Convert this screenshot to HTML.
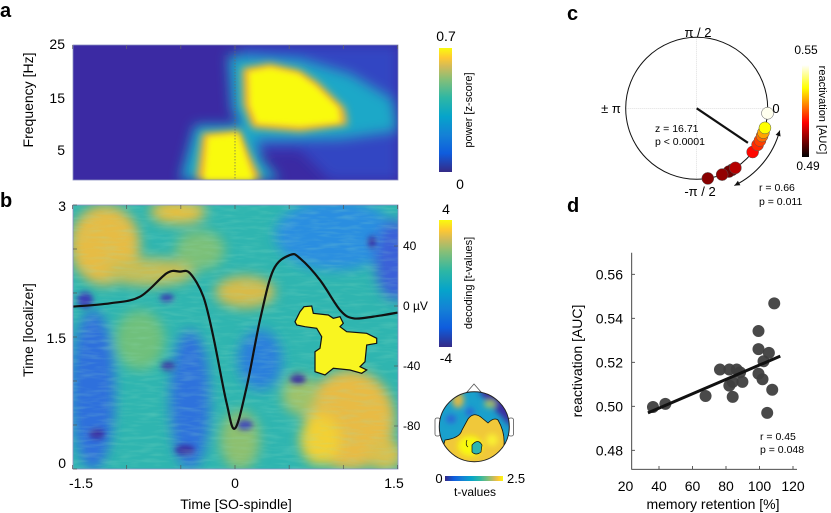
<!DOCTYPE html>
<html><head><meta charset="utf-8"><style>
html,body{margin:0;padding:0;background:#fff;}
svg{display:block;font-family:"Liberation Sans",Arial,sans-serif;}
</style></head><body>
<svg id="fig" width="831" height="513" viewBox="0 0 831 513" xmlns="http://www.w3.org/2000/svg">
<defs>
<linearGradient id="parulaV" x1="0" y1="1" x2="0" y2="0">
<stop offset="0" stop-color="#352a87"/><stop offset="0.15" stop-color="#0f5cdd"/><stop offset="0.3" stop-color="#1481d6"/><stop offset="0.45" stop-color="#06a4ca"/><stop offset="0.6" stop-color="#2eb7a4"/><stop offset="0.75" stop-color="#87bf77"/><stop offset="0.85" stop-color="#d1bb59"/><stop offset="0.92" stop-color="#fec832"/><stop offset="1" stop-color="#f9fb0e"/>
</linearGradient>
<linearGradient id="parulaH" x1="0" y1="0" x2="1" y2="0">
<stop offset="0" stop-color="#352a87"/><stop offset="0.15" stop-color="#0f5cdd"/><stop offset="0.3" stop-color="#1481d6"/><stop offset="0.45" stop-color="#06a4ca"/><stop offset="0.6" stop-color="#2eb7a4"/><stop offset="0.75" stop-color="#87bf77"/><stop offset="0.85" stop-color="#d1bb59"/><stop offset="0.92" stop-color="#fec832"/><stop offset="1" stop-color="#f9fb0e"/>
</linearGradient>
<linearGradient id="hotV" x1="0" y1="1" x2="0" y2="0">
<stop offset="0" stop-color="#000"/><stop offset="0.375" stop-color="#f00"/><stop offset="0.75" stop-color="#ff0"/><stop offset="1" stop-color="#fff"/>
</linearGradient>
<filter id="blur6" x="-20%" y="-20%" width="140%" height="140%"><feGaussianBlur stdDeviation="6"/></filter>
<filter id="blur4" x="-20%" y="-20%" width="140%" height="140%"><feGaussianBlur stdDeviation="4"/></filter>
<filter id="blur3" x="-20%" y="-20%" width="140%" height="140%"><feGaussianBlur stdDeviation="3"/></filter>
<filter id="streak"><feTurbulence type="fractalNoise" baseFrequency="0.05 0.3" numOctaves="2" seed="3"/><feColorMatrix type="matrix" values="0 0 0 0 0.3  0 0 0 0 0.75  0 0 0 0 0.55  1.2 0 0 0 -0.5"/></filter>
<clipPath id="clipA"><rect x="73" y="45" width="325" height="135"/></clipPath>
<clipPath id="clipB"><rect x="73" y="205" width="325" height="264"/></clipPath>
<clipPath id="clipT"><circle cx="474.3" cy="426.7" r="35"/></clipPath>
</defs>

<!-- PANEL A -->
<text x="0" y="17" font-size="20" font-weight="bold">a</text>
<g clip-path="url(#clipA)">
<rect x="73" y="45" width="325" height="135" fill="#3b2aa3"/>
<g filter="url(#blur6)">
<path d="M240 45 L398 45 L398 180 L330 180 L300 150 L250 150 Z" fill="#2f52d0" opacity="0.7"/>
<path d="M228 55 L300 60 L350 75 L392 100 L398 130 L340 138 L250 140 L232 110 Z" fill="#1fa8c8"/>
<path d="M195 125 L250 125 L262 160 L280 180 L180 180 Z" fill="#1fa8c8"/>
</g>
<g filter="url(#blur4)">
<path d="M242 68 L270 63 L300 70 L318 82 L345 108 L348 125 L300 132 L252 128 L243 105 Z" fill="#f0b735"/>
<path d="M202 133 L240 130 L250 155 L262 180 L196 180 Z" fill="#f0b735"/>
</g>
<g filter="url(#blur3)">
<path d="M249 72 L270 68 L298 74 L315 86 L338 108 L340 122 L300 126 L257 123 L250 105 Z" fill="#f9fb0e"/>
<path d="M208 137 L238 134 L246 158 L254 180 L204 180 Z" fill="#f9fb0e"/>
</g>
<line x1="235" y1="45" x2="235" y2="180" stroke="#666" stroke-width="0.7" stroke-dasharray="1.5,1.5"/>
</g>
<rect x="73" y="45" width="325" height="135" fill="none" stroke="#8a8fc0" stroke-width="0.8"/>
<g id="ticksA"></g>
<text x="65" y="49" font-size="14" text-anchor="end">25</text>
<text x="65" y="103" font-size="14" text-anchor="end">15</text>
<text x="65" y="155" font-size="14" text-anchor="end">5</text>
<text transform="translate(33,100) rotate(-90)" font-size="14" text-anchor="middle">Frequency [Hz]</text>
<rect x="439" y="48" width="13" height="124" fill="url(#parulaV)"/>
<text x="446" y="41" font-size="14" text-anchor="middle">0.7</text>
<text x="460" y="189" font-size="14" text-anchor="middle">0</text>
<text transform="translate(472,110) rotate(-90)" font-size="11" text-anchor="middle">power [z-score]</text>

<!-- PANEL B -->
<text x="0" y="207" font-size="20" font-weight="bold">b</text>
<g clip-path="url(#clipB)">
<rect x="73" y="205" width="325" height="264" fill="#2fb5b0"/>
<g filter="url(#blur6)">
<ellipse cx="105" cy="245" rx="35" ry="40" fill="#e6bc45"/>
<ellipse cx="178" cy="212" rx="28" ry="12" fill="#e8c040"/>
<ellipse cx="150" cy="272" rx="45" ry="14" fill="#c8bd55"/>
<ellipse cx="245" cy="292" rx="30" ry="16" fill="#d8bb48"/>
<ellipse cx="200" cy="250" rx="25" ry="20" fill="#7cc078"/>
<ellipse cx="93" cy="390" rx="22" ry="80" fill="#2f6fdc"/>
<ellipse cx="190" cy="400" rx="20" ry="70" fill="#2f72dc"/>
<ellipse cx="335" cy="235" rx="60" ry="35" fill="#2a8ee0"/>
<ellipse cx="395" cy="260" rx="20" ry="40" fill="#3a60d8"/>
<ellipse cx="350" cy="420" rx="45" ry="50" fill="#e8bb45"/>
<ellipse cx="320" cy="440" rx="20" ry="25" fill="#f2d035"/>
<ellipse cx="385" cy="455" rx="18" ry="16" fill="#d9c04d"/>
<ellipse cx="260" cy="360" rx="22" ry="30" fill="#2a7fdc"/>
<ellipse cx="140" cy="340" rx="25" ry="30" fill="#6fc07c"/>
<ellipse cx="240" cy="440" rx="20" ry="30" fill="#8dc070"/>
<ellipse cx="300" cy="395" rx="18" ry="20" fill="#9fc26a"/>
</g>
<g filter="url(#blur3)">
<ellipse cx="168" cy="366" rx="7" ry="4" fill="#3b2ea0"/>
<ellipse cx="97" cy="434" rx="8" ry="5" fill="#3b2ea0"/>
<ellipse cx="185" cy="450" rx="10" ry="5" fill="#3b2ea0"/>
<ellipse cx="298" cy="379" rx="8" ry="5" fill="#3b2ea0"/>
<ellipse cx="167" cy="298" rx="7" ry="4" fill="#3b3eb0"/>
<ellipse cx="372" cy="242" rx="4" ry="6" fill="#3b2ea0"/>
<ellipse cx="245" cy="425" rx="8" ry="5" fill="#3a40b8"/>
<ellipse cx="85" cy="300" rx="8" ry="8" fill="#3a40b8"/>
</g>
<rect x="73" y="205" width="325" height="264" filter="url(#streak)" opacity="0.4"/>
<path id="cluster" d="M295 321.7 L300 311.7 L304 306.7 L311.7 306 L313.3 313.3 L328.3 315 L333.3 318.3 L340 316.7 L343.3 323.3 L340 326.7 L346.7 331.7 L366.7 333.3 L376.7 338.3 L376.7 343.3 L366.7 345 L365 361.7 L360 366.7 L366.7 370 L361.7 373.3 L350 370 L333.3 368.3 L325 375 L315 371.7 L315 351.7 L320 348.3 L321.7 336.7 L316.7 328.3 L305 326.7 L296.7 325 Z" fill="#f9f520" stroke="#111" stroke-width="1.2"/>
<path id="soWave" fill="none" stroke="#111" stroke-width="2.2"/>
</g>
<rect x="73" y="205" width="325" height="264" fill="none" stroke="#8a8fc0" stroke-width="0.8"/>
<g id="ticksB"></g>
<text x="66" y="211" font-size="14" text-anchor="end">3</text>
<text x="66" y="343" font-size="14" text-anchor="end">1.5</text>
<text x="66" y="468" font-size="14" text-anchor="end">0</text>
<text transform="translate(33,330) rotate(-90)" font-size="14" text-anchor="middle">Time [localizer]</text>
<text x="81" y="488" font-size="14" text-anchor="middle">-1.5</text>
<text x="235" y="488" font-size="14" text-anchor="middle">0</text>
<text x="394" y="488" font-size="14" text-anchor="middle">1.5</text>
<text x="236" y="509" font-size="14" text-anchor="middle">Time [SO-spindle]</text>
<g id="uvLabels"></g>
<rect x="439" y="220" width="13" height="127" fill="url(#parulaV)"/>
<text x="446" y="214" font-size="14" text-anchor="middle">4</text>
<text x="446" y="363" font-size="14" text-anchor="middle">-4</text>
<text transform="translate(472,283) rotate(-90)" font-size="11" text-anchor="middle">decoding [t-values]</text>

<!-- topoplot -->
<g>
<path d="M467 392 L474 384 L481 392 Z" fill="#fff" stroke="#555" stroke-width="0.8"/>
<rect x="435" y="418" width="5" height="18" rx="2" fill="#fff" stroke="#555" stroke-width="0.8"/>
<rect x="508.5" y="418" width="5" height="18" rx="2" fill="#fff" stroke="#555" stroke-width="0.8"/>
<g clip-path="url(#clipT)">
<rect x="439" y="391" width="71" height="71" fill="#1aa0cc"/>
<g filter="url(#blur3)">
<path d="M478 390 L512 390 L512 428 L500 415 L485 400 Z" fill="#3b2ea0"/>
<ellipse cx="458" cy="400" rx="6" ry="8" fill="#d9b84a"/>
<ellipse cx="490" cy="404" rx="6" ry="4" fill="#a0c064"/>
<ellipse cx="451" cy="419" rx="5" ry="4" fill="#2f5fd8"/>
<ellipse cx="470" cy="412" rx="4" ry="4" fill="#2f5fd8"/>
</g>
<path d="M468 419 Q474 411 482 418 L488 423 Q494 417 498 420 Q505 432 504 445 Q510 452 510 462 L439 462 L445 440 Q460 438 462 430 Z" fill="#f0c83a" stroke="#111" stroke-width="0.8"/>
<g filter="url(#blur3)"><ellipse cx="470" cy="446" rx="12" ry="10" fill="#f9fb0e"/><ellipse cx="492" cy="440" rx="6" ry="6" fill="#f9f030"/></g>
<path d="M472 445 Q478 438 482 445 L481 452 Q476 456 472 452 Z" fill="#2fb5b0" stroke="#111" stroke-width="0.7"/>
<path d="M467 440 Q465 445 468 447" fill="none" stroke="#111" stroke-width="0.7"/>
</g>
<circle cx="474.3" cy="426.7" r="35" fill="none" stroke="#222" stroke-width="1"/>
</g>
<rect x="445" y="476" width="58" height="5" fill="url(#parulaH)"/>
<text x="439" y="483" font-size="13" text-anchor="middle">0</text>
<text x="507" y="483" font-size="13">2.5</text>
<text x="475" y="496" font-size="12" text-anchor="middle">t-values</text>

<!-- PANEL C -->
<text x="567" y="20" font-size="20" font-weight="bold">c</text>
<g id="polar">
<line x1="625.7" y1="108.3" x2="767.7" y2="108.3" stroke="#ccc" stroke-width="0.6" stroke-dasharray="1,1"/>
<line x1="696.7" y1="37.3" x2="696.7" y2="179.3" stroke="#ccc" stroke-width="0.6" stroke-dasharray="1,1"/>
<circle cx="696.7" cy="108.3" r="71" fill="none" stroke="#111" stroke-width="1"/>
</g>
<text x="698" y="37" font-size="13" text-anchor="middle">π / 2</text>
<text x="611" y="113" font-size="13" text-anchor="middle">± π</text>
<text x="776" y="113" font-size="13" text-anchor="middle">0</text>
<text x="700" y="196" font-size="13" text-anchor="middle">-π / 2</text>
<text x="655" y="132" font-size="10.5">z = 16.71</text>
<text x="655" y="145" font-size="10.5">p &lt; 0.0001</text>
<text x="759" y="191" font-size="10.5">r  = 0.66</text>
<text x="759" y="205" font-size="10.5">p = 0.011</text>
<rect x="802" y="65" width="7" height="92" fill="url(#hotV)"/>
<text x="806" y="54" font-size="12" text-anchor="middle">0.55</text>
<text x="808" y="170" font-size="12" text-anchor="middle">0.49</text>
<text transform="translate(819,110) rotate(90)" font-size="11" text-anchor="middle">reactivation [AUC]</text>

<!-- PANEL D -->
<text x="567" y="212" font-size="20" font-weight="bold">d</text>
<g id="scatter"></g>
<text transform="translate(582,361) rotate(-90)" font-size="14" text-anchor="middle">reactivation [AUC]</text>
<text x="713" y="509" font-size="14" text-anchor="middle">memory retention [%]</text>
<text x="760" y="440" font-size="10.5">r  = 0.45</text>
<text x="760" y="453" font-size="10.5">p = 0.048</text>
</svg>
<script>
var NS='http://www.w3.org/2000/svg';
// --- panel b SO waveform data ---
var soTimes=[-1.5,-1.154,-0.877,-0.631,-0.508,-0.415,-0.292,-0.2,-0.077,0,0.108,0.231,0.354,0.508,0.6,0.785,0.97,1.092,1.277,1.5];
var soAmp=[-0.4,1.8,6.2,21.8,22.9,21.8,6.2,-20.4,-64.9,-81.6,-53.8,-9.3,24,34,31.8,17.3,-2.7,-8.2,-7.1,-4.4];
var uvTicks=[40,0,-40,-80];
var uvTickLabels=['40','0 µV','-40','-80'];
var timeTicks=[-1.5,-1,-0.5,0,0.5,1,1.5];
var locTicks=[0,0.5,1,1.5,2,2.5,3];
// --- panel c phase data ---
var phaseDeg=[-4,-16,-20,-23,-27,-31,-38,-57,-63,-69,-81,-60];
var phaseAuc=[0.549,0.535,0.527,0.522,0.518,0.516,0.513,0.506,0.5,0.503,0.502,0.497];
var meanAngleDeg=[-34];
var meanLength=[0.87];
// --- panel d scatter data ---
var retention=[36.4,43.8,67.8,76.4,82,82,84,84,86.4,88.4,89.8,99.4,99.4,99.4,101.8,102.4,105.6,104.6,107.6,108.8];
var auc=[0.4997,0.5011,0.5047,0.5167,0.5167,0.5094,0.5111,0.5043,0.5167,0.5154,0.5111,0.5342,0.526,0.5148,0.5123,0.5205,0.5243,0.497,0.5075,0.5468];
var fitX=[33.4,112.4];
var fitY=[0.497,0.5228];
var dXTicks=[20,40,60,80,100,120];
var dYTicks=[0.48,0.5,0.52,0.54,0.56];
var dYTickLabels=['0.48','0.50','0.52','0.54','0.56'];

function mk(tag,attrs,parent){var e=document.createElementNS(NS,tag);for(var k in attrs)e.setAttribute(k,attrs[k]);parent.appendChild(e);return e;}
function bx(t){return 235+t*108.33;}
function buv(v){return 306-1.5*v;}
function bloc(v){return 469-v/3*264;}
var p=soTimes.map(function(t,i){return [bx(t),buv(soAmp[i])];});
var d='M'+p[0][0]+' '+p[0][1];
for(var i=0;i<p.length-1;i++){var p0=p[i-1]||p[i],p1=p[i],p2=p[i+1],p3=p[i+2]||p2;
d+=' C'+(p1[0]+(p2[0]-p0[0])/6).toFixed(1)+' '+(p1[1]+(p2[1]-p0[1])/6).toFixed(1)+' '+(p2[0]-(p3[0]-p1[0])/6).toFixed(1)+' '+(p2[1]-(p3[1]-p1[1])/6).toFixed(1)+' '+p2[0].toFixed(1)+' '+p2[1].toFixed(1);}
document.getElementById('soWave').setAttribute('d',d);
var tb=document.getElementById('ticksB');
timeTicks.forEach(function(t){var l=mk('line',{x1:bx(t),x2:bx(t),y1:469,y2:465,stroke:'#555','stroke-width':0.7},tb);


var l2=mk('line',{x1:bx(t),x2:bx(t),y1:205,y2:209,stroke:'#555','stroke-width':0.7},tb);

});
locTicks.forEach(function(v){var l=mk('line',{x1:73,x2:77,y1:bloc(v),y2:bloc(v),stroke:'#555','stroke-width':0.7},tb);

});
var uv=document.getElementById('uvLabels');
uvTicks.forEach(function(v,i){var l=mk('line',{x1:398,x2:394,y1:buv(v),y2:buv(v),stroke:'#555','stroke-width':0.7},uv);


var t=mk('text',{x:403,y:buv(v)+4,'font-size':12},uv);t.textContent=uvTickLabels[i];

});
var ta=document.getElementById('ticksA');
timeTicks.forEach(function(t){var l=mk('line',{x1:bx(t),x2:bx(t),y1:45,y2:49,stroke:'#666','stroke-width':0.7},ta);

});
// c
var cx=696.7,cy=108.3,R=71;
function hot(v){var t=(v-0.49)/0.06;t=Math.max(0,Math.min(1,t));var r,g,b;
if(t<0.375){r=t/0.375;g=0;b=0;}else if(t<0.75){r=1;g=(t-0.375)/0.375;b=0;}else{r=1;g=1;b=(t-0.75)/0.25;}
return 'rgb('+Math.round(r*255)+','+Math.round(g*255)+','+Math.round(b*255)+')';}
var pol=document.getElementById('polar');
var ml=mk('line',{x1:cx,y1:cy,x2:cx+R*meanLength[0]*Math.cos(meanAngleDeg[0]*Math.PI/180),y2:cy-R*meanLength[0]*Math.sin(meanAngleDeg[0]*Math.PI/180),stroke:'#111','stroke-width':2.2},pol);


var order=phaseDeg.map(function(_,i){return i;}).sort(function(a,b){return phaseAuc[a]-phaseAuc[b];});
order.forEach(function(i){var a=phaseDeg[i]*Math.PI/180;
var c=mk('circle',{cx:cx+R*Math.cos(a),cy:cy-R*Math.sin(a),r:6,fill:hot(phaseAuc[i]),stroke:'#555','stroke-width':0.5},pol);

});
var ar=86,a1=-15*Math.PI/180,a2=-64*Math.PI/180;
var x1=cx+ar*Math.cos(a1),y1=cy-ar*Math.sin(a1),x2=cx+ar*Math.cos(a2),y2=cy-ar*Math.sin(a2);
var arc=mk('path',{d:'M'+x1+' '+y1+' A'+ar+' '+ar+' 0 0 1 '+x2+' '+y2,fill:'none',stroke:'#111','stroke-width':1},pol);


function head(x,y,ang){var s=6;var q='M'+x+' '+y+' L'+(x-s*Math.cos(ang-0.45))+' '+(y-s*Math.sin(ang-0.45))+' L'+(x-s*Math.cos(ang+0.45))+' '+(y-s*Math.sin(ang+0.45))+' Z';
var h=mk('path',{d:q,fill:'#111'},pol);

}
head(x1,y1,Math.atan2(y1-(cy-ar*Math.sin(a1-0.1)),x1-(cx+ar*Math.cos(a1-0.1))));
head(x2,y2,Math.atan2(y2-(cy-ar*Math.sin(a2+0.1)),x2-(cx+ar*Math.cos(a2+0.1))));
// d
function dx(v){return 625.5+(v-20)*1.675;}
function dy(v){return 274.3+(0.56-v)*2200;}
var sc=document.getElementById('scatter');
var ax=mk('path',{d:'M631.7 252.7 L631.7 469.3 L797 469.3',fill:'none',stroke:'#333','stroke-width':0.9},sc);


dXTicks.forEach(function(v){if(v>23){var l=mk('line',{x1:dx(v),x2:dx(v),y1:469.3,y2:466,stroke:'#333','stroke-width':0.8},sc);

}
var t=mk('text',{x:dx(v),y:491,'font-size':14,'text-anchor':'middle'},sc);t.textContent=v;

});
dYTicks.forEach(function(v,i){var l=mk('line',{x1:631.7,x2:635,y1:dy(v),y2:dy(v),stroke:'#333','stroke-width':0.8},sc);


var t=mk('text',{x:623,y:dy(v)+5,'font-size':14,'text-anchor':'end'},sc);t.textContent=dYTickLabels[i];

});
retention.forEach(function(v,i){var c=mk('circle',{cx:dx(v),cy:dy(auc[i]),r:6,fill:'#3f3f3f','fill-opacity':0.95},sc);

});
var fl=mk('line',{x1:dx(fitX[0]),y1:dy(fitY[0]),x2:dx(fitX[1]),y2:dy(fitY[1]),stroke:'#111','stroke-width':3},sc);


</script>
</body></html>
